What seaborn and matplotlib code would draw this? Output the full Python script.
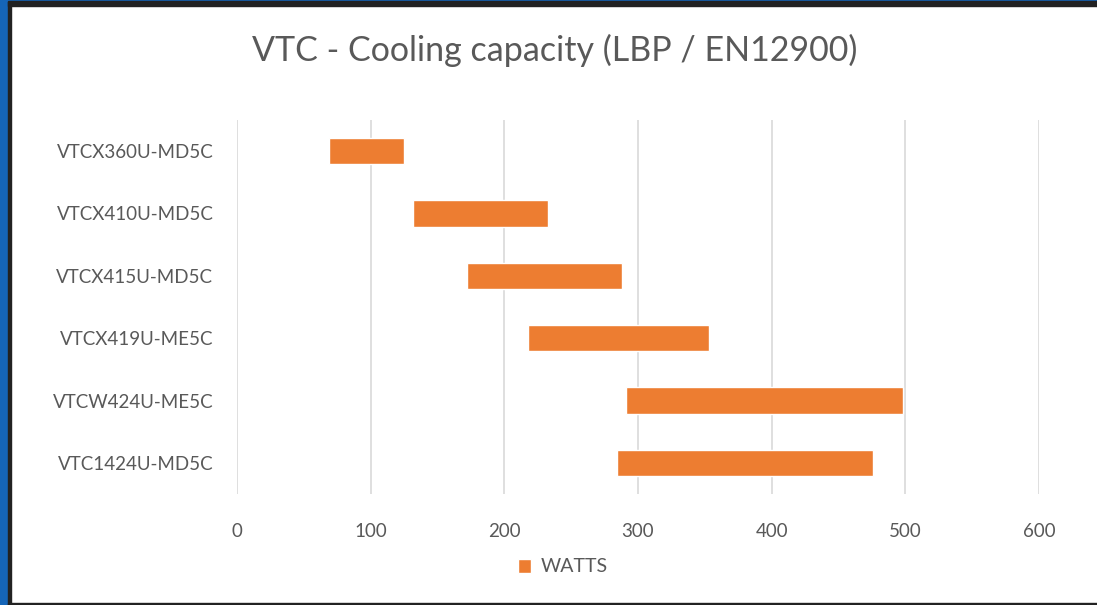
import numpy as np
import pandas as pd
import matplotlib
matplotlib.use("Agg")
import matplotlib.pyplot as plt
from matplotlib.patches import Rectangle
import seaborn as sns

# data (watts)
models = ["VTCX360U-MD5C", "VTCX410U-MD5C", "VTCX415U-MD5C",
          "VTCX419U-ME5C", "VTCW424U-ME5C", "VTC1424U-MD5C"]
watts_min = [69, 132, 172, 218, 291, 284]
watts_max = [125, 233, 288, 353, 498, 476]

df = pd.DataFrame({"model": models, "start": watts_min, "end": watts_max})
df["span"] = df["end"] - df["start"]

ORANGE = "#ED7D31"
GREY_TXT = "#595959"
GRID = "#D9D9D9"

sns.set_style("white")
plt.rcParams["font.family"] = ["Lato", "DejaVu Sans"]

fig = plt.figure(figsize=(10.97, 6.05), dpi=100)
ax = fig.add_axes([237 / 1097, 1 - 494 / 605, (1039 - 237) / 1097, (494 - 120) / 605])

sns.barplot(data=df, x="span", y="model", order=models, orient="h",
            color=ORANGE, saturation=1, width=0.42, left=df["start"].values,
            label="WATTS", ax=ax, zorder=3)
if ax.get_legend() is not None:
    ax.get_legend().remove()

ax.set_xlim(0, 600)
ax.set_xticks(np.arange(0, 601, 100))
ax.grid(axis="x", color=GRID, linewidth=1.2, zorder=0)
ax.set_axisbelow(True)
for s in ax.spines.values():
    s.set_visible(False)
ax.set_xlabel("")
ax.set_ylabel("")
ax.tick_params(axis="both", length=0, labelsize=13.5, labelcolor=GREY_TXT)
ax.tick_params(axis="x", pad=21)
ax.tick_params(axis="y", pad=17)

fig.text(555 / 1097, 1 - 50 / 605, "VTC - Cooling capacity (LBP / EN12900)",
         ha="center", va="center", fontsize=24.5, color=GREY_TXT)

handles, labels = ax.get_legend_handles_labels()
fig.legend(handles, labels, loc="center", bbox_to_anchor=(563 / 1097, 1 - 567 / 605),
           frameon=False, fontsize=14, labelcolor=GREY_TXT,
           handlelength=0.7, handleheight=0.7, handletextpad=0.5)

# window frame around the chart
fig.patches.append(Rectangle((0, 0), 8 / 1097, 1, transform=fig.transFigure,
                             color="#1565B8", zorder=10))
fig.patches.append(Rectangle((8 / 1097, 0), 3 / 1097, 1, transform=fig.transFigure,
                             color="#222222", zorder=10))
fig.patches.append(Rectangle((0, 1 - 1 / 605), 1, 1 / 605, transform=fig.transFigure,
                             color="#1565B8", zorder=10))
fig.patches.append(Rectangle((8 / 1097, 1 - 6 / 605), 1, 5 / 605, transform=fig.transFigure,
                             color="#222222", zorder=10))
fig.patches.append(Rectangle((8 / 1097, 0), 1, 2 / 605, transform=fig.transFigure,
                             color="#222222", zorder=10))

fig.savefig("out.png", dpi=100)
